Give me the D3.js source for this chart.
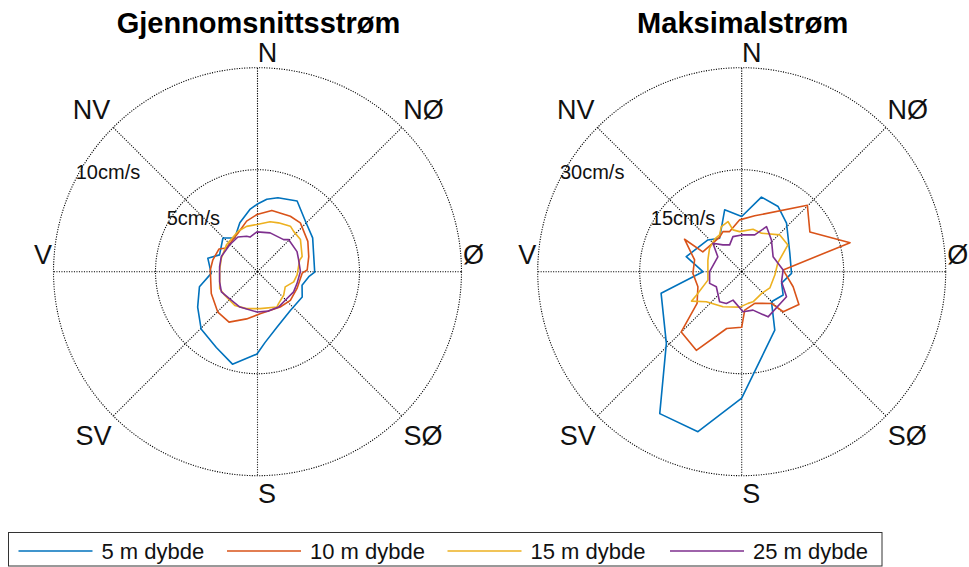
<!DOCTYPE html>
<html>
<head>
<meta charset="utf-8">
<script src="https://cdn.jsdelivr.net/npm/d3@7/dist/d3.min.js"></script>
<style>
  html,body{margin:0;padding:0;background:#fff;}
  svg{display:block;font-family:Arial,"Liberation Sans",Helvetica,sans-serif;}
</style>
</head>
<body>
<svg id="chart" width="969" height="567"></svg>
<script>
// ---------------- DATA ----------------
const titles = ["Gjennomsnittsstrøm", "Maksimalstrøm"];
const seriesNames = ["5 m dybde", "10 m dybde", "15 m dybde", "25 m dybde"];
const compassLabels = ["N", "NØ", "Ø", "SØ", "S", "SV", "V", "NV"];
const compassBearings = [0, 45, 90, 135, 180, 225, 270, 315];
const avgTicks = [5, 10];
const maxTicks = [15, 30];
const tickUnit = "cm/s";

// [bearing (deg), speed (cm/s)]
const avg5 = [[0,3.22],[7.9,3.5],[16.1,3.69],[30.2,3.91],[44.8,3.37],[60,3.15],[92,2.83],[97.4,2.56],[108.6,2.33],[120.8,2.58],[140.5,2.57],[160.8,2.97],[173.6,3.57],[180,4.12],[194.6,4.77],[207.7,4.29],[223.5,3.98],[238,3.43],[253.7,2.94],[265.8,2.25],[283.5,2.48],[292,1.98],[313.2,2.29],[325.2,1.91],[340,2.46],[353.3,2.99]];
const avg10 = [[0,2.72],[14,3.01],[31.8,3.10],[42.6,3.14],[60.6,2.86],[75.5,2.62],[90,2.46],[94,2.22],[114.7,2.16],[132.3,2.21],[147.9,2.14],[176,2.15],[192,2.45],[208.2,2.90],[222.9,2.82],[242.8,2.52],[270,2.29],[283,2.22],[298.8,2.13],[305.6,1.85],[333,2.04],[348,2.45]];
const avg15 = [[0,2.23],[15.2,2.45],[24.5,2.54],[37.3,2.7],[43.5,2.61],[55,2.6],[73.4,2.31],[76.7,2.15],[97,1.98],[107.9,1.89],[120.8,1.61],[133.5,1.8],[147.4,1.96],[151.8,2.06],[175.5,1.9],[195,1.96],[212,2.05],[232,2.01],[243.7,2.04],[270,1.83],[288.3,1.84],[309.5,1.94],[334,2.11],[346.6,2.2]];
const avg25 = [[0,1.87],[19.5,1.93],[41.2,1.98],[46,2.15],[65.3,2.16],[76.4,2.1],[92,2.13],[108.5,2.07],[120.9,2.09],[133.6,2.03],[149.9,2.1],[164.5,2.09],[180,2.06],[204.8,2.0],[220,1.94],[238.4,2.05],[252.5,1.92],[275,1.84],[290.6,1.87],[312.8,1.82],[330,1.87],[343,1.73],[348,1.65]];

const max5 = [[0,8.11],[14.8,11.35],[29.2,10.98],[42.7,9.72],[69,7.58],[92,7.33],[106,6.1],[119.4,7.0],[135.3,6.23],[150.5,9.88],[180,18.6],[195.3,24.4],[210,24.1],[226.4,15.3],[255,12.27],[270,5.7],[285.2,8.45],[313.2,6.82],[326.6,5.9],[344.6,9.44]];
const max10 = [[357.8,7.63],[13.1,8.44],[44.7,13.73],[59.8,11.6],[75,16.5],[87.6,6.1],[106.3,7.88],[119.9,9.7],[134,8.48],[136.8,6.4],[157.6,5.04],[175.5,5.67],[180,8.16],[194.8,8.64],[210,13.35],[225.1,12.55],[234.6,8.05],[251,6.81],[268,7.18],[284,7.14],[299.6,9.67],[297,6.42],[327.4,6.02],[334.9,6.51],[343.3,6.16]];
const max15 = [[357,5.9],[14.9,6.47],[27.2,6.37],[46,7.79],[59.9,7.85],[76.4,5.46],[95.7,4.9],[120,4.78],[137.2,4.34],[159.4,4.73],[168.7,4.75],[183,5.22],[208,5.85],[229.6,6.83],[239.6,8.55],[242.6,7.47],[256,5.12],[289,5.26],[306,5.85],[320.2,6.22],[329,6.31],[335.7,7.28],[344.7,7.65],[348.2,6.28]];
const max25 = [[0,5.41],[19.5,5.74],[28.8,7.57],[43.1,6.4],[64.4,5.12],[87.6,6.1],[104,6.04],[119.2,7.55],[149.7,7.69],[163.6,5.89],[178,5.9],[197,4.37],[205.8,5.18],[216.3,5.49],[239.3,4.34],[250,5.02],[270,4.72],[302,4.14],[314.7,5.96],[325,4.81],[335.8,4.32],[346,5.32]];

// ---------------- STYLE / LAYOUT ----------------
const colors = ["#0072BD", "#D95319", "#EDB120", "#7E2F8E"];
const R = 204;
const cy = 271.7;
const panels = [
  {cx: 257.5, title: titles[0], ticks: avgTicks, series: [avg5, avg10, avg15, avg25], dataShift: [-0.5, -1.7]},
  {cx: 741.7, title: titles[1], ticks: maxTicks, series: [max5, max10, max15, max25], dataShift: [0, 0]}
];
// label offsets (glyph centre relative to plot centre)
const labelOffsets = [[10,-218.5],[166,-161.7],[216,-16.7],[165.5,164.3],[9.5,222.3],[-164,164.3],[-214.5,-16.7],[-166,-161.7]];

const svg = d3.select("#chart");
const rad = d => d * Math.PI / 180;

panels.forEach(p => {
  const g = svg.append("g").attr("transform", `translate(${p.cx},${cy})`);
  const r = d3.scaleLinear().domain([0, d3.max(p.ticks)]).range([0, R]);

  // grid circles
  g.selectAll("circle.grid").data(p.ticks).join("circle")
    .attr("class","grid").attr("r", d => r(d))
    .attr("fill","none").attr("stroke","#000").attr("stroke-width",1.1)
    .attr("stroke-dasharray","1.1,1.4");
  // spokes
  g.selectAll("line.spoke").data(compassBearings).join("line")
    .attr("x1",0).attr("y1",0)
    .attr("x2", d => R*Math.sin(rad(d))).attr("y2", d => -R*Math.cos(rad(d)))
    .attr("stroke","#000").attr("stroke-width",1.1).attr("stroke-dasharray","1.1,1.4");

  // tick labels along bearing 297
  g.selectAll("text.tick").data(p.ticks).join("text")
    .attr("x", d => r(d)*Math.sin(rad(297)))
    .attr("y", d => -r(d)*Math.cos(rad(297)))
    .attr("font-size", 20).attr("fill","#111")
    .text(d => d + tickUnit);

  // series
  const line = d3.lineRadial()
    .angle(d => rad(d[0])).radius(d => r(d[1]))
    .curve(d3.curveLinearClosed);
  g.append("g").attr("transform", `translate(${p.dataShift[0]},${p.dataShift[1]})`)
    .selectAll("path.series").data(p.series).join("path")
    .attr("d", line).attr("fill","none")
    .attr("stroke", (d,i) => colors[i]).attr("stroke-width",1.6)
    .attr("stroke-linejoin","round");

  // compass labels
  g.selectAll("text.compass").data(compassLabels).join("text")
    .attr("x", (d,i) => labelOffsets[i][0])
    .attr("y", (d,i) => labelOffsets[i][1])
    .attr("text-anchor","middle").attr("dominant-baseline","central")
    .attr("font-size", 27).attr("fill","#111")
    .text(d => d);

  // title
  svg.append("text").attr("x", p.cx + 1).attr("y", 33)
    .attr("text-anchor","middle").attr("font-size", 29).attr("font-weight","bold")
    .attr("fill","#000").text(p.title);
});

// legend
const legend = svg.append("g");
legend.append("rect").attr("x",8.5).attr("y",532.5).attr("width",873.5).attr("height",33.5)
  .attr("fill","#fff").attr("stroke","#333").attr("stroke-width",1);
const legLineX = [18.5, 227, 447.5, 670];
const legLineW = 74;
legend.selectAll("line.leg").data(seriesNames).join("line")
  .attr("x1",(d,i)=>legLineX[i]).attr("x2",(d,i)=>legLineX[i]+legLineW)
  .attr("y1",551).attr("y2",551)
  .attr("stroke",(d,i)=>colors[i]).attr("stroke-width",1.5);
legend.selectAll("text.leg").data(seriesNames).join("text")
  .attr("x",(d,i)=>legLineX[i]+legLineW+9).attr("y",559)
  .attr("font-size",22).attr("fill","#111").text(d=>d);
</script>
</body>
</html>
